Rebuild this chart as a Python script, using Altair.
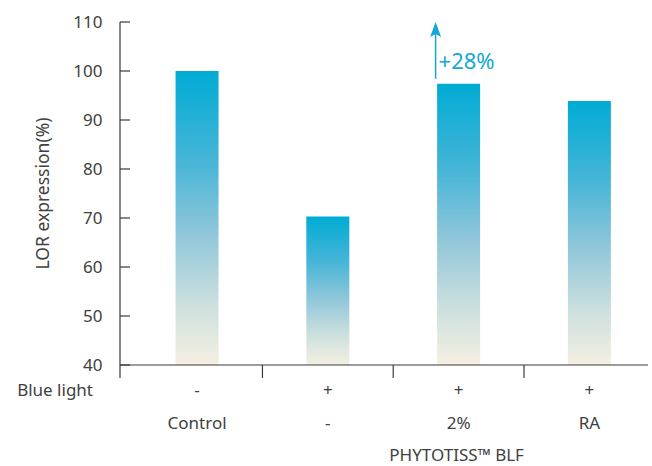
import altair as alt
import pandas as pd

# ---- data ----
groups = ["Control", "Blue light", "PHYTOTISS BLF 2%", "RA"]
lor_expression = [100.0, 70.3, 97.4, 93.9]
blue_light_row = ["-", "+", "+", "+"]
treatment_row = ["Control", "-", "2%", "RA"]
y_tick_values = [40, 50, 60, 70, 80, 90, 100, 110]
group_separators = [0.5, 1.5, 2.5]
annotation_label = "+28%"
arrow_start = 98.4
arrow_end = 107.6
arrow_tip = 110
annotation_y = 101.8

idx = list(range(len(groups)))
bars_df = pd.DataFrame({"idx": idx, "group": groups, "value": lor_expression})
rows_df = pd.DataFrame({"idx": idx, "blue": blue_light_row, "treat": treatment_row})
ticks_df = pd.DataFrame({"t": y_tick_values})
sep_df = pd.DataFrame({"s": group_separators})
one_df = pd.DataFrame({"k": [0]})

W, H = 528, 343
FONT = "Noto Sans"
TXT = "#404040"
AXC = "#3a3a3a"
CYAN = "#12a8d3"
FS = 17

xscale = alt.Scale(domain=[-0.551, 3.41], nice=False, zero=False)
yscale = alt.Scale(domain=[40, 110], nice=False, zero=False)

gradient = alt.Gradient(
    gradient="linear",
    x1=0, x2=0, y1=0, y2=1,
    stops=[
        alt.GradientStop(offset=0.0, color="#00abd4"),
        alt.GradientStop(offset=0.3, color="#45b5d7"),
        alt.GradientStop(offset=0.55, color="#8fc6da"),
        alt.GradientStop(offset=0.8, color="#cde0de"),
        alt.GradientStop(offset=1.0, color="#f4f0e2"),
    ],
)

bars = alt.Chart(bars_df).mark_bar(size=43, color=gradient).encode(
    x=alt.X("idx:Q", scale=xscale, axis=None),
    y=alt.Y(
        "value:Q",
        scale=yscale,
        axis=alt.Axis(
            values=y_tick_values,
            ticks=False,
            domain=False,
            grid=False,
            labelPadding=18,
            labelFontSize=FS,
            labelFont=FONT,
            labelColor=TXT,
            title="LOR expression(%)",
            titleFont=FONT,
            titleFontSize=17.5,
            titleFontWeight="normal",
            titleColor=TXT,
            titleAngle=-90,
            titleX=-77,
            titleY=171,
            titleAlign="center",
            titleBaseline="middle",
        ),
    ),
    y2=alt.datum(40),
)

y_ticks = alt.Chart(ticks_df).mark_rule(color=AXC, strokeWidth=1.2).encode(
    y=alt.Y("t:Q"), x=alt.value(0), x2=alt.value(10)
)

y_line = alt.Chart(one_df).mark_rule(color=AXC, strokeWidth=1.2).encode(
    x=alt.value(0), y=alt.datum(110), y2=alt.value(H + 13)
)

x_line = alt.Chart(one_df).mark_rule(color=AXC, strokeWidth=1.2).encode(
    y=alt.datum(40), x=alt.value(0), x2=alt.value(W)
)

x_seps = alt.Chart(sep_df).mark_rule(color=AXC, strokeWidth=1.2).encode(
    x=alt.X("s:Q"), y=alt.datum(40), y2=alt.value(H + 13)
)

row1 = alt.Chart(rows_df).mark_text(
    fontSize=FS, font=FONT, color=TXT, align="center", baseline="middle"
).encode(x="idx:Q", y=alt.value(369), text="blue:N")

row2 = alt.Chart(rows_df).mark_text(
    fontSize=FS, font=FONT, color=TXT, align="center", baseline="middle"
).encode(x="idx:Q", y=alt.value(402), text="treat:N")

blue_label = alt.Chart(one_df).mark_text(
    fontSize=FS, font=FONT, color=TXT, align="right", baseline="middle"
).encode(x=alt.value(-27), y=alt.value(369), text=alt.value("Blue light"))

brand_label = alt.Chart(one_df).mark_text(
    fontSize=FS, font=FONT, color=TXT, align="center", baseline="middle", dx=-2
).encode(x=alt.datum(2), y=alt.value(434), text=alt.value("PHYTOTISS™ BLF"))

arrow_line = alt.Chart(one_df).mark_rule(color=CYAN, strokeWidth=1.5, xOffset=-23).encode(
    x=alt.datum(2), y=alt.datum(arrow_start), y2=alt.datum(arrow_end)
)

arrow_head = alt.Chart(one_df).mark_point(
    shape="M0,0L0.73,2L0,1.6L-0.73,2Z",
    filled=True,
    size=225,
    color=CYAN,
    opacity=1,
    strokeWidth=0,
    xOffset=-23,
).encode(x=alt.datum(2), y=alt.datum(arrow_tip))

arrow_text = alt.Chart(one_df).mark_text(
    fontSize=22, font=FONT, color=CYAN, align="left", baseline="middle", dx=-20
).encode(x=alt.datum(2), y=alt.datum(annotation_y), text=alt.value(annotation_label))

chart = (
    alt.layer(
        bars, y_ticks, y_line, x_line, x_seps, row1, row2, blue_label,
        brand_label, arrow_line, arrow_head, arrow_text,
    )
    .properties(
        width=W,
        height=H,
        autosize=alt.AutoSizeParams(type="none"),
        padding={"left": 120, "top": 22, "right": 4, "bottom": 101},
        background="white",
    )
    .configure_view(stroke=None)
)

chart.save("out.html", embed_options={"renderer": "svg", "actions": False})
